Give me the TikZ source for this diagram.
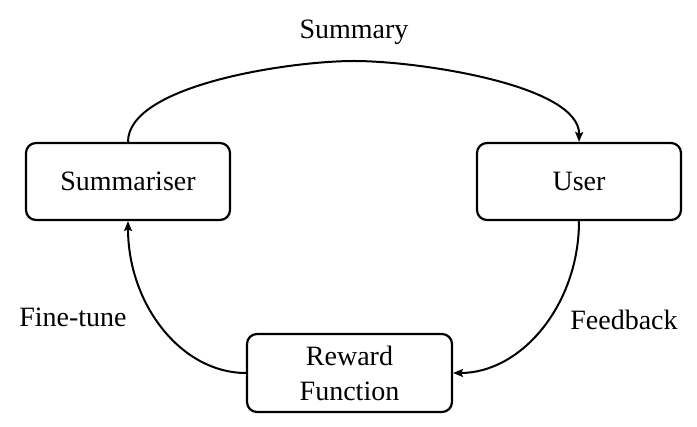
\documentclass[tikz,border=0pt]{standalone}
\usepackage{fontspec}
\setmainfont{Liberation Serif}
\newfontfamily\tmsfont{Liberation Serif}
\usetikzlibrary{arrows.meta}
\begin{document}
\begin{tikzpicture}[x=1pt,y=-1pt,
  box/.style={draw,line width=2.2pt,rounded corners=10pt,minimum width=204pt,minimum height=77pt,inner sep=0pt,font=\tmsfont\fontsize{28}{35}\selectfont,align=center},
  lbl/.style={font=\tmsfont\fontsize{28}{35}\selectfont,inner sep=0pt},
  conn/.style={line width=2pt,-{Stealth[length=10pt,width=8pt,inset=2pt]}}]
\useasboundingbox (0,0) rectangle (697,427);
\node[box] (summ) at (128,181.5) {Summariser};
\node[box] (user) at (579,181.5) {User};
\node[box,minimum height=78pt,minimum width=205pt] (rew) at (349.5,373) {Reward\\Function};
\node[lbl,anchor=base] (lsum) at (354,39) {Summary};
\node[lbl,anchor=base] (lfine) at (73,327) {Fine-tune};
\node[lbl,anchor=base] (lfeed) at (624,330) {Feedback};
\coordinate (top) at (354,61);
\draw[conn] (summ.north) .. controls (128,85) and (290,61) .. (top)
  .. controls (418,61) and (580,85) .. (user.north);
\draw[conn] (user.south) .. controls (579,304.5) and (521.6,373) .. (rew.east);
\draw[conn] (rew.west) .. controls (181.3,373) and (128,304.5) .. (summ.south);
\end{tikzpicture}
\end{document}
